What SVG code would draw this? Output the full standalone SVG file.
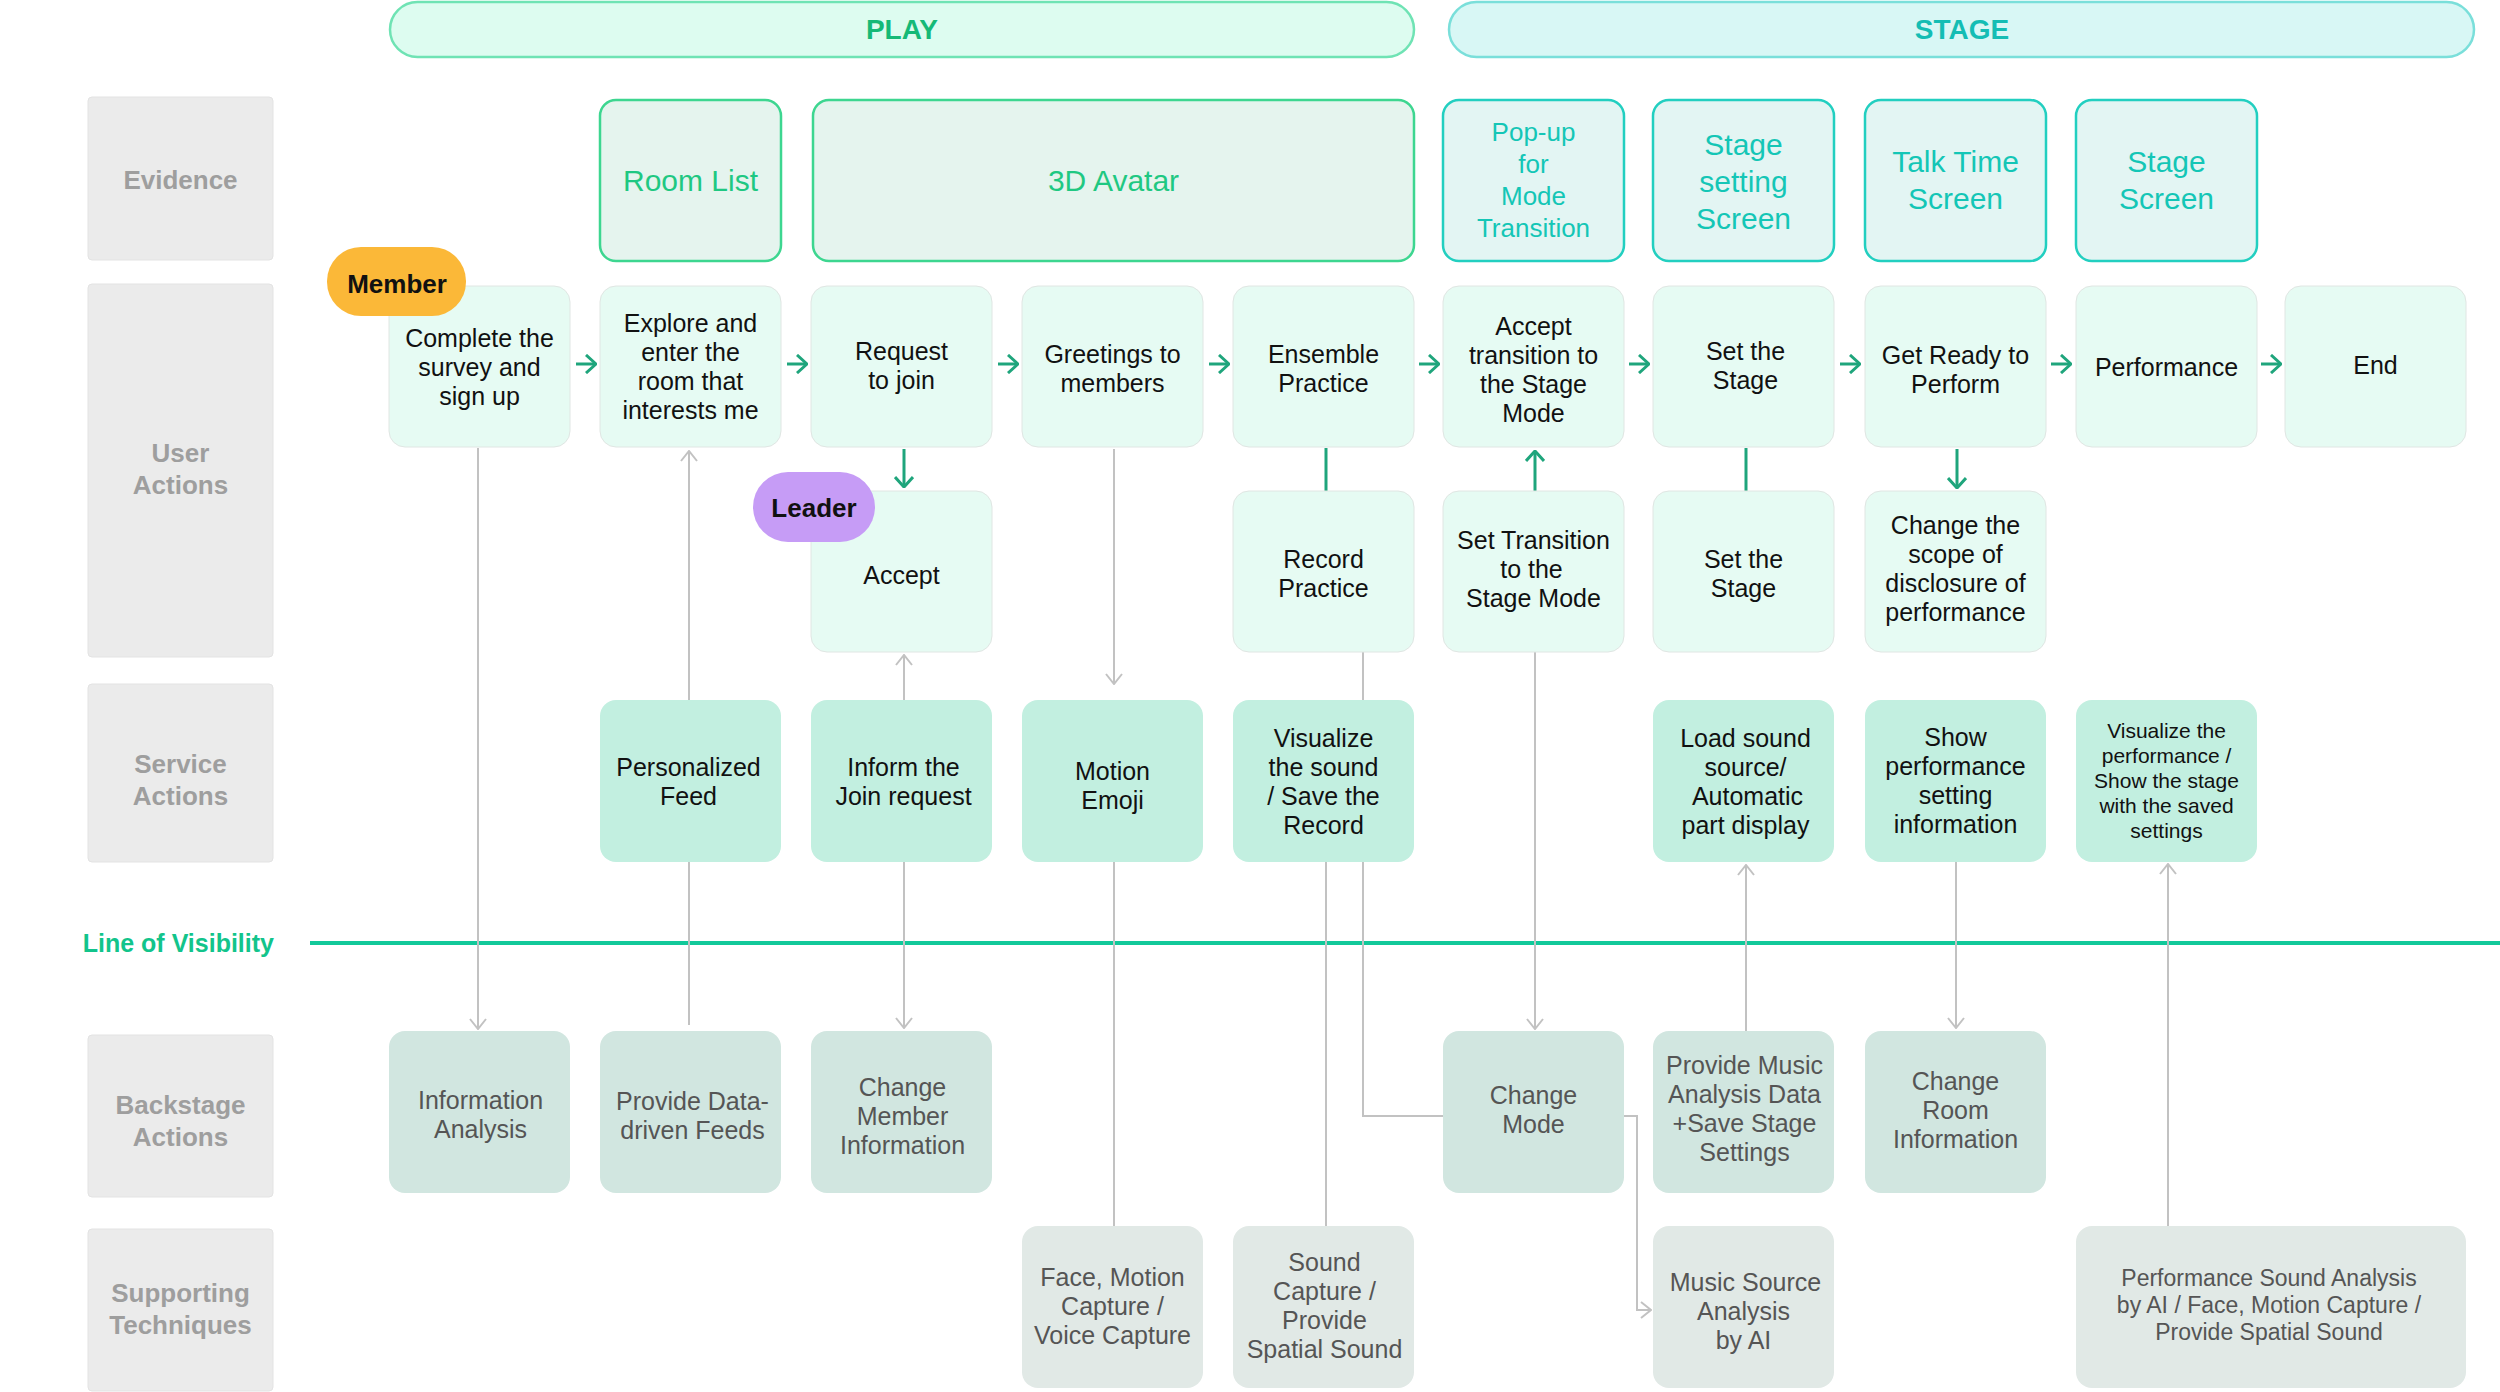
<svg xmlns="http://www.w3.org/2000/svg" width="2500" height="1392" viewBox="0 0 2500 1392">
<defs>
<style>
text{font-family:"Liberation Sans",Arial,sans-serif;text-anchor:middle}
.lab{fill:#EBEBEB;stroke:#E3E3E3;stroke-width:1}
.labt{font-size:26px;font-weight:bold;fill:#9E9E9E}
.ev1{fill:#E5F4EE;stroke:#3DD690;stroke-width:2.5}
.ev1t{font-size:30px;fill:#1FC882}
.ev2{fill:#E3F5F3;stroke:#22CFC0;stroke-width:2.5}
.ev2t{font-size:30px;fill:#14C6B6}
.ua{fill:#E6FBF3;stroke:#E0E6E3;stroke-width:1}
.sa{fill:#C2EFE0}
.ba{fill:#D1E6E0}
.st{fill:#E1E9E6}
.bt{font-size:25px;fill:#111}
.gt{font-size:25px;fill:#555}
.green{stroke:#1FA57C;stroke-width:3;fill:none}
.gray{stroke:#C2C2C2;stroke-width:2;fill:none}
</style>
<marker id="ag" viewBox="0 0 12 18" refX="11" refY="9" markerWidth="12" markerHeight="18" markerUnits="userSpaceOnUse" orient="auto"><path d="M1,1 L11,9 L1,17" fill="none" stroke="#C2C2C2" stroke-width="2"/></marker>
<marker id="ar" viewBox="0 0 12 20" refX="11" refY="10" markerWidth="12" markerHeight="20" markerUnits="userSpaceOnUse" orient="auto"><path d="M1,1 L11,10 L1,19" fill="none" stroke="#1FA57C" stroke-width="3"/></marker>
</defs>
<rect width="2500" height="1392" fill="#FFFFFF"/>

<g id="phases">
<g id="phase-play"><rect x="390" y="2" width="1024" height="55" rx="27.5" fill="#DDFCF0" stroke="#6FE3B4" stroke-width="2.5"/><text x="902" y="39" style="font-size:28px;font-weight:bold;fill:#15B977">PLAY</text></g>
<g id="phase-stage"><rect x="1449" y="2" width="1025" height="55" rx="27.5" fill="#D8F7F5" stroke="#7ADFDA" stroke-width="2.5"/><text x="1962" y="39" style="font-size:28px;font-weight:bold;fill:#14BDB4">STAGE</text></g>
</g>

<g id="lanes">
<g id="lane-evidence"><rect class="lab" x="88" y="97" width="185" height="163" rx="4"/><text class="labt" x="180.5" y="189">Evidence</text></g>
<g id="lane-user"><rect class="lab" x="88" y="284" width="185" height="373" rx="4"/><text class="labt" x="180.5" y="462">User</text><text class="labt" x="180.5" y="494">Actions</text></g>
<g id="lane-service"><rect class="lab" x="88" y="684" width="185" height="178" rx="4"/><text class="labt" x="180.5" y="773">Service</text><text class="labt" x="180.5" y="805">Actions</text></g>
<g id="lane-visibility"><text x="274" y="952" style="font-size:25px;font-weight:bold;fill:#12C48B;text-anchor:end">Line of Visibility</text><line x1="310" y1="943" x2="2500" y2="943" stroke="#12C99A" stroke-width="4"/></g>
<g id="lane-backstage"><rect class="lab" x="88" y="1035" width="185" height="162" rx="4"/><text class="labt" x="180.5" y="1114">Backstage</text><text class="labt" x="180.5" y="1146">Actions</text></g>
<g id="lane-supporting"><rect class="lab" x="88" y="1229" width="185" height="162" rx="4"/><text class="labt" x="180.5" y="1302">Supporting</text><text class="labt" x="180.5" y="1334">Techniques</text></g>
</g>

<g id="connectors">
<line class="green" x1="576" y1="364" x2="596" y2="364" marker-end="url(#ar)"/>
<line class="green" x1="787" y1="364" x2="807" y2="364" marker-end="url(#ar)"/>
<line class="green" x1="998" y1="364" x2="1018" y2="364" marker-end="url(#ar)"/>
<line class="green" x1="1209" y1="364" x2="1229" y2="364" marker-end="url(#ar)"/>
<line class="green" x1="1419" y1="364" x2="1439" y2="364" marker-end="url(#ar)"/>
<line class="green" x1="1629" y1="364" x2="1649" y2="364" marker-end="url(#ar)"/>
<line class="green" x1="1840" y1="364" x2="1860" y2="364" marker-end="url(#ar)"/>
<line class="green" x1="2051" y1="364" x2="2071" y2="364" marker-end="url(#ar)"/>
<line class="green" x1="2261" y1="364" x2="2281" y2="364" marker-end="url(#ar)"/>
<line class="green" x1="904" y1="449" x2="904" y2="487" marker-end="url(#ar)"/>
<line class="green" x1="1326" y1="448" x2="1326" y2="491"/>
<line class="green" x1="1535" y1="491" x2="1535" y2="451" marker-end="url(#ar)"/>
<line class="green" x1="1746" y1="448" x2="1746" y2="491"/>
<line class="green" x1="1957" y1="449" x2="1957" y2="488" marker-end="url(#ar)"/>
<line class="gray" x1="478" y1="448" x2="478" y2="1029" marker-end="url(#ag)"/>
<line class="gray" x1="689" y1="1025" x2="689" y2="451" marker-end="url(#ag)"/>
<line class="gray" x1="904" y1="700" x2="904" y2="655" marker-end="url(#ag)"/>
<line class="gray" x1="904" y1="862" x2="904" y2="1028" marker-end="url(#ag)"/>
<line class="gray" x1="1114" y1="449" x2="1114" y2="684" marker-end="url(#ag)"/>
<line class="gray" x1="1114" y1="862" x2="1114" y2="1227"/>
<line class="gray" x1="1326" y1="862" x2="1326" y2="1227"/>
<path class="gray" d="M1363,652 L1363,1116 L1443,1116"/>
<line class="gray" x1="1535" y1="652" x2="1535" y2="1029" marker-end="url(#ag)"/>
<path class="gray" d="M1623,1116 L1637,1116 L1637,1310 L1651,1310" marker-end="url(#ag)"/>
<line class="gray" x1="1746" y1="1031" x2="1746" y2="865" marker-end="url(#ag)"/>
<line class="gray" x1="1956" y1="862" x2="1956" y2="1028" marker-end="url(#ag)"/>
<line class="gray" x1="2168" y1="1227" x2="2168" y2="864" marker-end="url(#ag)"/>
</g>

<g id="evidence">
<g id="ev-roomlist"><rect class="ev1" x="600" y="100" width="181" height="161" rx="16"/><text class="ev1t" x="690.5" y="191">Room List</text></g>
<g id="ev-avatar"><rect class="ev1" x="813" y="100" width="601" height="161" rx="16"/><text class="ev1t" x="1113.5" y="191">3D Avatar</text></g>
<g id="ev-popup"><rect class="ev2" x="1443" y="100" width="181" height="161" rx="16"/><text class="ev2t" style="font-size:26px" x="1533.5" y="141">Pop-up</text><text class="ev2t" style="font-size:26px" x="1533.5" y="173">for</text><text class="ev2t" style="font-size:26px" x="1533.5" y="205">Mode</text><text class="ev2t" style="font-size:26px" x="1533.5" y="237">Transition</text></g>
<g id="ev-stagesetting"><rect class="ev2" x="1653" y="100" width="181" height="161" rx="16"/><text class="ev2t" x="1743.5" y="155">Stage</text><text class="ev2t" x="1743.5" y="192">setting</text><text class="ev2t" x="1743.5" y="229">Screen</text></g>
<g id="ev-talktime"><rect class="ev2" x="1865" y="100" width="181" height="161" rx="16"/><text class="ev2t" x="1955.5" y="172">Talk Time</text><text class="ev2t" x="1955.5" y="209">Screen</text></g>
<g id="ev-stagescreen"><rect class="ev2" x="2076" y="100" width="181" height="161" rx="16"/><text class="ev2t" x="2166.5" y="172">Stage</text><text class="ev2t" x="2166.5" y="209">Screen</text></g>
</g>

<g id="user-actions">
<g id="ua-survey"><rect class="ua" x="389" y="286" width="181" height="161" rx="16"/><text class="bt" x="479.5" y="347">Complete the</text><text class="bt" x="479.5" y="376">survey and</text><text class="bt" x="479.5" y="405">sign up</text></g>
<g id="ua-explore"><rect class="ua" x="600" y="286" width="181" height="161" rx="16"/><text class="bt" x="690.5" y="332">Explore and</text><text class="bt" x="690.5" y="361">enter the</text><text class="bt" x="690.5" y="390">room that</text><text class="bt" x="690.5" y="419">interests me</text></g>
<g id="ua-request"><rect class="ua" x="811" y="286" width="181" height="161" rx="16"/><text class="bt" x="901.5" y="360">Request</text><text class="bt" x="901.5" y="389">to join</text></g>
<g id="ua-greetings"><rect class="ua" x="1022" y="286" width="181" height="161" rx="16"/><text class="bt" x="1112.5" y="363">Greetings to</text><text class="bt" x="1112.5" y="392">members</text></g>
<g id="ua-ensemble"><rect class="ua" x="1233" y="286" width="181" height="161" rx="16"/><text class="bt" x="1323.5" y="363">Ensemble</text><text class="bt" x="1323.5" y="392">Practice</text></g>
<g id="ua-accept-transition"><rect class="ua" x="1443" y="286" width="181" height="161" rx="16"/><text class="bt" x="1533.5" y="335">Accept</text><text class="bt" x="1533.5" y="364">transition to</text><text class="bt" x="1533.5" y="393">the Stage</text><text class="bt" x="1533.5" y="422">Mode</text></g>
<g id="ua-setstage"><rect class="ua" x="1653" y="286" width="181" height="161" rx="16"/><text class="bt" x="1745.5" y="360">Set the</text><text class="bt" x="1745.5" y="389">Stage</text></g>
<g id="ua-getready"><rect class="ua" x="1865" y="286" width="181" height="161" rx="16"/><text class="bt" x="1955.5" y="364">Get Ready to</text><text class="bt" x="1955.5" y="393">Perform</text></g>
<g id="ua-performance"><rect class="ua" x="2076" y="286" width="181" height="161" rx="16"/><text class="bt" x="2166.5" y="376">Performance</text></g>
<g id="ua-end"><rect class="ua" x="2285" y="286" width="181" height="161" rx="16"/><text class="bt" x="2375.5" y="374">End</text></g>
<g id="ua-accept"><rect class="ua" x="811" y="491" width="181" height="161" rx="16"/><text class="bt" x="901.5" y="584">Accept</text></g>
<g id="ua-record"><rect class="ua" x="1233" y="491" width="181" height="161" rx="16"/><text class="bt" x="1323.5" y="568">Record</text><text class="bt" x="1323.5" y="597">Practice</text></g>
<g id="ua-settransition"><rect class="ua" x="1443" y="491" width="181" height="161" rx="16"/><text class="bt" x="1533.5" y="549">Set Transition</text><text class="bt" x="1531.5" y="578">to the</text><text class="bt" x="1533.5" y="607">Stage Mode</text></g>
<g id="ua-setstage2"><rect class="ua" x="1653" y="491" width="181" height="161" rx="16"/><text class="bt" x="1743.5" y="568">Set the</text><text class="bt" x="1743.5" y="597">Stage</text></g>
<g id="ua-scope"><rect class="ua" x="1865" y="491" width="181" height="161" rx="16"/><text class="bt" x="1955.5" y="534">Change the</text><text class="bt" x="1955.5" y="563">scope of</text><text class="bt" x="1955.5" y="592">disclosure of</text><text class="bt" x="1955.5" y="621">performance</text></g>
</g>

<g id="roles">
<g id="role-member"><rect x="327" y="247" width="139" height="69" rx="34" fill="#FBB838"/><text x="397" y="293" style="font-size:26px;font-weight:bold;fill:#111">Member</text></g>
<g id="role-leader"><rect x="753" y="472" width="122" height="70" rx="35" fill="#C69CF6"/><text x="814" y="517" style="font-size:26px;font-weight:bold;fill:#111">Leader</text></g>
</g>

<g id="service-actions">
<g id="sa-feed"><rect class="sa" x="600" y="700" width="181" height="162" rx="16"/><text class="bt" x="688.5" y="776">Personalized</text><text class="bt" x="688.5" y="805">Feed</text></g>
<g id="sa-inform"><rect class="sa" x="811" y="700" width="181" height="162" rx="16"/><text class="bt" x="903.5" y="776">Inform the</text><text class="bt" x="903.5" y="805">Join request</text></g>
<g id="sa-emoji"><rect class="sa" x="1022" y="700" width="181" height="162" rx="16"/><text class="bt" x="1112.5" y="780">Motion</text><text class="bt" x="1112.5" y="809">Emoji</text></g>
<g id="sa-visualize"><rect class="sa" x="1233" y="700" width="181" height="162" rx="16"/><text class="bt" x="1323.5" y="747">Visualize</text><text class="bt" x="1323.5" y="776">the sound</text><text class="bt" x="1323.5" y="805">/ Save the</text><text class="bt" x="1323.5" y="834">Record</text></g>
<g id="sa-load"><rect class="sa" x="1653" y="700" width="181" height="162" rx="16"/><text class="bt" x="1745.5" y="747">Load sound</text><text class="bt" x="1745.5" y="776">source/</text><text class="bt" x="1747.5" y="805">Automatic</text><text class="bt" x="1745.5" y="834">part display</text></g>
<g id="sa-show"><rect class="sa" x="1865" y="700" width="181" height="162" rx="16"/><text class="bt" x="1955.5" y="746">Show</text><text class="bt" x="1955.5" y="775">performance</text><text class="bt" x="1955.5" y="804">setting</text><text class="bt" x="1955.5" y="833">information</text></g>
<g id="sa-visualize-perf"><rect class="sa" x="2076" y="700" width="181" height="162" rx="16"/><text class="bt" style="font-size:21px" x="2166.5" y="738">Visualize the</text><text class="bt" style="font-size:21px" x="2166.5" y="763">performance /</text><text class="bt" style="font-size:21px" x="2166.5" y="788">Show the stage</text><text class="bt" style="font-size:21px" x="2166.5" y="813">with the saved</text><text class="bt" style="font-size:21px" x="2166.5" y="838">settings</text></g>
</g>

<g id="backstage-actions">
<g id="ba-info"><rect class="ba" x="389" y="1031" width="181" height="162" rx="16"/><text class="gt" x="480.5" y="1109">Information</text><text class="gt" x="480.5" y="1138">Analysis</text></g>
<g id="ba-feeds"><rect class="ba" x="600" y="1031" width="181" height="162" rx="16"/><text class="gt" x="692.5" y="1110">Provide Data-</text><text class="gt" x="692.5" y="1139">driven Feeds</text></g>
<g id="ba-member"><rect class="ba" x="811" y="1031" width="181" height="162" rx="16"/><text class="gt" x="902.5" y="1096">Change</text><text class="gt" x="902.5" y="1125">Member</text><text class="gt" x="902.5" y="1154">Information</text></g>
<g id="ba-mode"><rect class="ba" x="1443" y="1031" width="181" height="162" rx="16"/><text class="gt" x="1533.5" y="1104">Change</text><text class="gt" x="1533.5" y="1133">Mode</text></g>
<g id="ba-music"><rect class="ba" x="1653" y="1031" width="181" height="162" rx="16"/><text class="gt" x="1744.5" y="1074">Provide Music</text><text class="gt" x="1744.5" y="1103">Analysis Data</text><text class="gt" x="1744.5" y="1132">+Save Stage</text><text class="gt" x="1744.5" y="1161">Settings</text></g>
<g id="ba-room"><rect class="ba" x="1865" y="1031" width="181" height="162" rx="16"/><text class="gt" x="1955.5" y="1090">Change</text><text class="gt" x="1955.5" y="1119">Room</text><text class="gt" x="1955.5" y="1148">Information</text></g>
</g>

<g id="supporting-techniques">
<g id="st-face"><rect class="st" x="1022" y="1226" width="181" height="162" rx="16"/><text class="gt" x="1112.5" y="1286">Face, Motion</text><text class="gt" x="1112.5" y="1315">Capture /</text><text class="gt" x="1112.5" y="1344">Voice Capture</text></g>
<g id="st-sound"><rect class="st" x="1233" y="1226" width="181" height="162" rx="16"/><text class="gt" x="1324.5" y="1271">Sound</text><text class="gt" x="1324.5" y="1300">Capture /</text><text class="gt" x="1324.5" y="1329">Provide</text><text class="gt" x="1324.5" y="1358">Spatial Sound</text></g>
<g id="st-music"><rect class="st" x="1653" y="1226" width="181" height="162" rx="16"/><text class="gt" x="1745.5" y="1291">Music Source</text><text class="gt" x="1743.5" y="1320">Analysis</text><text class="gt" x="1743.5" y="1349">by AI</text></g>
<g id="st-performance"><rect class="st" x="2076" y="1226" width="390" height="162" rx="16"/><text class="gt" style="font-size:23px" x="2269" y="1286">Performance Sound Analysis</text><text class="gt" style="font-size:23px" x="2269" y="1313">by AI / Face, Motion Capture /</text><text class="gt" style="font-size:23px" x="2269" y="1340">Provide Spatial Sound</text></g>
</g>
</svg>
